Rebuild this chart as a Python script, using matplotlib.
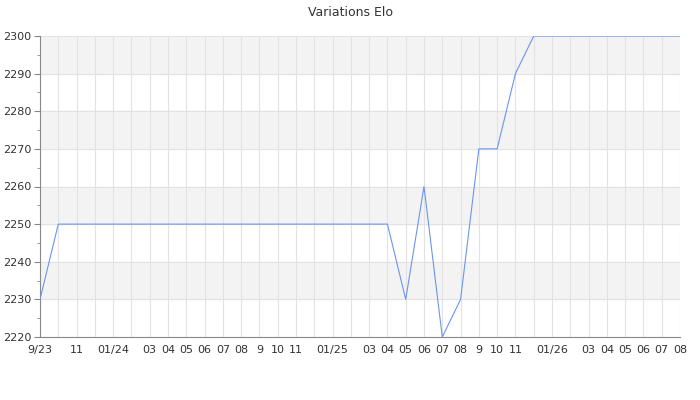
import numpy as np
import matplotlib.pyplot as plt

# monthly elo, starting 9/2023
month_labels = ['9/23', '', '11', '', '01/24', '', '03', '04', '05', '06', '07', '08',
                '9', '10', '11', '', '01/25', '', '03', '04', '05', '06', '07', '08',
                '9', '10', '11', '', '01/26', '', '03', '04', '05', '06', '07', '08']
elo = [2230, 2250, 2250, 2250, 2250, 2250, 2250, 2250, 2250, 2250, 2250, 2250,
       2250, 2250, 2250, 2250, 2250, 2250, 2250, 2250, 2230, 2260, 2220, 2230,
       2270, 2270, 2290, 2300, 2300, 2300, 2300, 2300, 2300, 2300, 2300, 2300]

x = np.arange(len(elo))

fig = plt.figure(figsize=(7, 4), dpi=100)
ax = fig.add_axes([40 / 700, 63 / 400, 640 / 700, 301 / 400])

ymin, ymax = 2220, 2300
# alternating bands
for i, y0 in enumerate(range(ymin, ymax, 10)):
    if i % 2 == 1:
        ax.axhspan(y0, y0 + 10, color='#f3f3f3', zorder=0)

ax.plot(x, elo, color='#6b95ee', lw=0.8, zorder=3)

ax.set_xlim(0, len(elo) - 1)
ax.set_ylim(ymin, ymax)

ax.set_xticks(x)
ax.set_xticklabels(month_labels)
ax.set_yticks(np.arange(ymin, ymax + 1, 10))
ax.set_yticks(np.arange(ymin + 5, ymax, 10), minor=True)

ax.grid(True, which='major', color='#e2e2e2', lw=0.8, zorder=1)
ax.set_axisbelow(True)

ax.tick_params(axis='x', length=0, labelsize=8, labelcolor='#333333', pad=6)
ax.tick_params(axis='y', which='major', length=4, color='#888888', labelsize=8,
               labelcolor='#333333', pad=2)
ax.tick_params(axis='y', which='minor', length=2, color='#888888')

for s in ['top', 'right']:
    ax.spines[s].set_visible(False)
for s in ['left', 'bottom']:
    ax.spines[s].set_color('#888888')
    ax.spines[s].set_linewidth(0.8)

fig.text(0.5, 1 - 12 / 400, 'Variations Elo', ha='center', va='center',
         fontsize=9, color='#333333')

fig.savefig('out.png', dpi=100)
